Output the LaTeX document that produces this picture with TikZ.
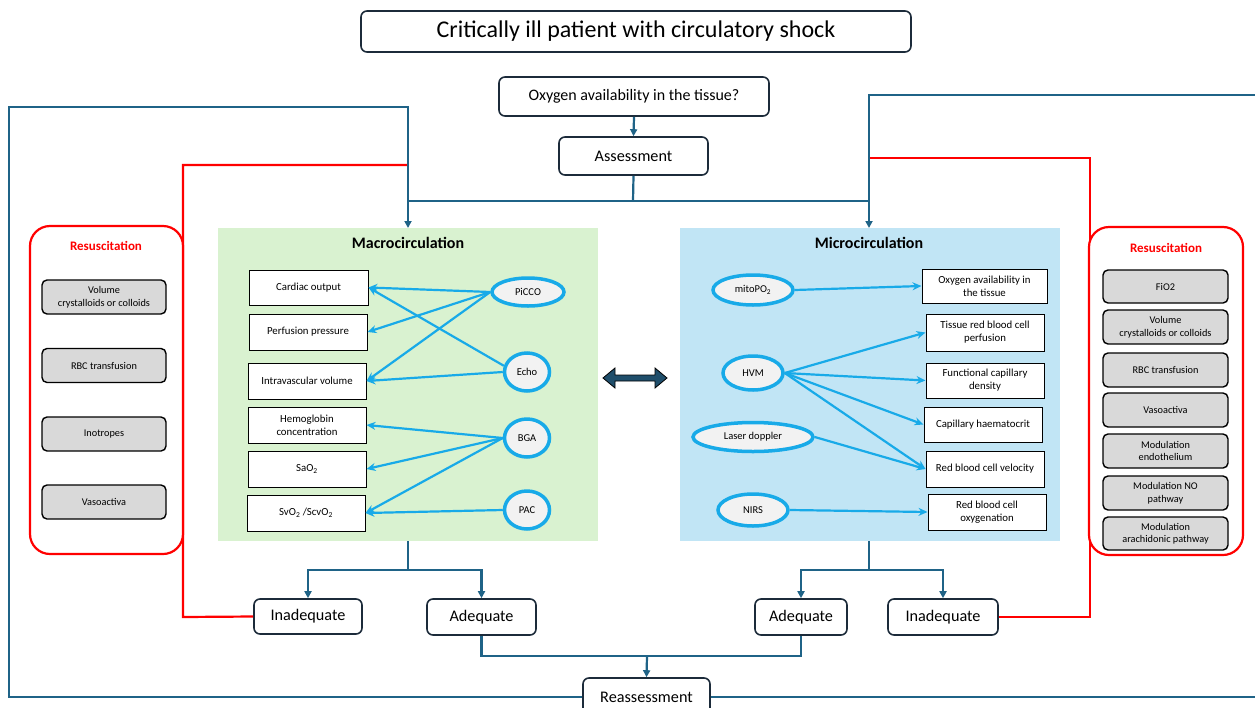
\documentclass[tikz,border=0pt]{standalone}
\usepackage{fontspec}
\setmainfont{Carlito}
\usetikzlibrary{arrows.meta,shapes.geometric}
\definecolor{conn}{HTML}{1F6387}
\definecolor{navy}{HTML}{1C2B3A}
\definecolor{lb}{HTML}{18AAE8}
\definecolor{ellfill}{HTML}{F2F2F2}
\definecolor{greenp}{HTML}{D9F2D0}
\definecolor{bluep}{HTML}{C1E5F5}
\definecolor{greybox}{HTML}{D9D9D9}
\definecolor{redc}{HTML}{FF0000}
\definecolor{darr}{HTML}{1F4E6B}
\begin{document}
\begin{tikzpicture}[x=1pt,y=-1pt,
 flowbox/.style={draw=navy, line width=1.6pt, rounded corners=6pt, fill=white, inner sep=0pt, align=center},
 bigf/.style={font=\fontsize{16.2}{19}\selectfont},
 mbox/.style={draw=black, line width=1pt, fill=white, inner sep=0pt, align=center, font=\fontsize{10.8}{13}\selectfont, minimum width=118pt, minimum height=36pt},
 gbox/.style={draw=black, line width=1.4pt, rounded corners=5pt, fill=greybox, inner sep=0pt, align=center, font=\fontsize{10.3}{12.5}\selectfont},
 ell/.style={ellipse, draw=lb, line width=3.5pt, fill=ellfill, inner sep=0pt, font=\fontsize{10.5}{12}\selectfont},
 resus/.style={draw=redc, line width=2.2pt, rounded corners=20pt, inner sep=0pt, fill=white},
 rtitle/.style={text=redc, font=\fontsize{13}{15}\selectfont\bfseries},
 ptitle/.style={font=\fontsize{16}{18}\selectfont\bfseries},
 panel/.style={draw=none, inner sep=0pt},
 cline/.style={draw=conn, line width=2.2pt},
 carrow/.style={cline, -{Triangle[length=7pt,width=7pt]}},
 rline/.style={draw=redc, line width=2.2pt},
 larrow/.style={draw=lb, line width=2.2pt, -{Stealth[length=9pt,width=8pt]}},
]
\useasboundingbox (0,0) rectangle (1255,707);
\clip (0,0) rectangle (1255,707);

% panels
\node[panel, fill=greenp, minimum width=380pt, minimum height=313pt] (macro) at (408,384.5) {};
\node[panel, fill=bluep, minimum width=380pt, minimum height=313pt] (micro) at (870,384.5) {};
\node[ptitle] (macrot) at (408,243) {Macrocirculation};
\node[ptitle] (microt) at (869,243) {Microcirculation};

% top boxes
\node[flowbox, minimum width=550pt, minimum height=41pt, font=\fontsize{24}{28}\selectfont] (title) at (636,31.5) {Critically ill patient with circulatory shock};
\node[flowbox, minimum width=270pt, minimum height=39pt, font=\fontsize{16}{19}\selectfont] (oxy) at (634,96.5) {Oxygen availability in the tissue?};
\node[flowbox, bigf, minimum width=149pt, minimum height=38pt] (assess) at (633.5,156) {Assessment};

% bottom boxes
\node[flowbox, bigf, minimum width=108pt, minimum height=35pt] (inadL) at (308,616.5) {Inadequate};
\node[flowbox, bigf, minimum width=109pt, minimum height=36pt] (adL) at (481.5,617) {Adequate};
\node[flowbox, bigf, minimum width=92pt, minimum height=36pt] (adR) at (801,617) {Adequate};
\node[flowbox, bigf, minimum width=110pt, minimum height=36pt] (inadR) at (943,617) {Inadequate};
\node[flowbox, bigf, minimum width=127pt, minimum height=38pt] (reass) at (646.5,697) {Reassessment};

% coordinates for connector corners
\coordinate (jA) at (633,201);
\coordinate (jL) at (408,201);
\coordinate (jR) at (869,201);
\coordinate (loopL1) at (9,697);
\coordinate (loopL2) at (9,107);
\coordinate (loopL3) at (408,107);
\coordinate (loopR1) at (1262,697);
\coordinate (loopR2) at (1262,95);
\coordinate (loopR3) at (869,95);
\coordinate (redL1) at (183,617);
\coordinate (redL2) at (183,165);
\coordinate (redL3) at (408,165);
\coordinate (redR1) at (1090,617);
\coordinate (redR2) at (1090,158);
\coordinate (redR3) at (869,158);
\coordinate (macroIn) at (408,228);
\coordinate (microIn) at (869,228);
\coordinate (macroOut) at (408,541);
\coordinate (microOut) at (869,541);
\coordinate (bL) at (408,570);
\coordinate (bR) at (869,570);
\coordinate (adJ) at (647,656);

% red feedback lines
\draw[rline] (inadL.west) -- (redL1) -- (redL2) -- (redL3);
\draw[rline] (inadR.east) -- (redR1) -- (redR2) -- (redR3);

% blue loops
\draw[carrow] (reass.west) -- (loopL1) -- (loopL2) -- (loopL3) -- (macroIn);
\draw[carrow] (reass.east) -- (loopR1) -- (loopR2) -- (loopR3) -- (microIn);
\draw[carrow] (oxy.south) -- (assess.north);
\draw[cline] (assess.south) -- (jA);
\draw[cline] (jL) -- (jR);

% bottom branches
\draw[cline] (macroOut) -- (bL);
\draw[carrow] (bL) -| (inadL.north);
\draw[carrow] (bL) -| (adL.north);
\draw[cline] (microOut) -- (bR);
\draw[carrow] (bR) -| (adR.north);
\draw[carrow] (bR) -| (inadR.north);
\draw[cline] (adL.south) |- (adJ) -| (adR.south);
\draw[carrow] (adJ) -- (reass.north);

% resuscitation panels
\node[resus, minimum width=153pt, minimum height=328pt] (resL) at (106.5,390) {};
\node[rtitle] (resLt) at (106,246) {Resuscitation};
\node[gbox, minimum width=124pt, minimum height=34pt] (l1) at (104,297) {Volume\\crystalloids or colloids};
\node[gbox, minimum width=124pt, minimum height=34pt] (l2) at (104,365.5) {RBC transfusion};
\node[gbox, minimum width=124pt, minimum height=34pt] (l3) at (104,434) {Inotropes};
\node[gbox, minimum width=124pt, minimum height=34pt] (l4) at (104,502) {Vasoactiva};

\node[resus, minimum width=154pt, minimum height=328pt] (resR) at (1166,391) {};
\node[rtitle] (resRt) at (1166,248) {Resuscitation};
\node[gbox, minimum width=125pt, minimum height=33pt] (r1) at (1165.5,286.5) {FiO2};
\node[gbox, minimum width=125pt, minimum height=34pt] (r2) at (1165.5,327) {Volume\\crystalloids or colloids};
\node[gbox, minimum width=125pt, minimum height=34pt] (r3) at (1165.5,370) {RBC transfusion};
\node[gbox, minimum width=125pt, minimum height=34pt] (r4) at (1165.5,410) {Vasoactiva};
\node[gbox, minimum width=125pt, minimum height=34pt] (r5) at (1165.5,451) {Modulation\\endothelium};
\node[gbox, minimum width=125pt, minimum height=34pt] (r6) at (1165.5,493) {Modulation NO\\pathway};
\node[gbox, minimum width=125pt, minimum height=33pt] (r7) at (1165.5,533.5) {Modulation\\arachidonic pathway};

% macro boxes
\node[mbox, minimum width=119pt, minimum height=35pt] (co) at (308.5,287.5) {Cardiac output};
\node[mbox] (pp) at (308,332) {Perfusion pressure};
\node[mbox] (iv) at (307,381) {Intravascular volume};
\node[mbox] (hb) at (307,425) {Hemoglobin\\concentration};
\node[mbox] (sao) at (307,469) {SaO\textsubscript{2}};
\node[mbox] (svo) at (306,513) {SvO\textsubscript{2} /ScvO\textsubscript{2}};

\node[ell, minimum width=72pt, minimum height=28pt] (picco) at (528,292) {PiCCO};
\node[ell, minimum width=45pt, minimum height=38pt] (echo) at (527,372) {Echo};
\node[ell, minimum width=45pt, minimum height=38pt] (bga) at (527,438) {BGA};
\node[ell, minimum width=45pt, minimum height=38pt] (pac) at (527,510) {PAC};

\draw[larrow] (picco.west) -- (co.east);
\draw[larrow] (picco.west) -- (pp.east);
\draw[larrow] (picco.west) -- (iv.east);
\draw[larrow] (echo.165) -- (co.east);
\draw[larrow] (echo.west) -- (iv.east);
\draw[larrow] (bga.west) -- (hb.east);
\draw[larrow] (bga.west) -- (sao.east);
\draw[larrow] (bga.west) -- (svo.east);
\draw[larrow] (pac.west) -- (svo.east);

% micro boxes
\node[mbox, minimum width=125pt, minimum height=34pt] (oa) at (984.5,286) {Oxygen availability in\\the tissue};
\node[mbox, minimum height=37pt] (trbc) at (985,332.5) {Tissue red blood cell\\perfusion};
\node[mbox, minimum height=35pt] (fcd) at (985,380.5) {Functional capillary\\density};
\node[mbox, minimum height=35pt] (ch) at (983,424.5) {Capillary haematocrit};
\node[mbox] (rbcv) at (985,469) {Red blood cell velocity};
\node[mbox] (rbco) at (987,512) {Red blood cell\\oxygenation};

\node[ell, minimum width=80pt, minimum height=30pt] (mito) at (753,290) {mitoPO\textsubscript{2}};
\node[ell, minimum width=60pt, minimum height=34pt] (hvm) at (753,373) {HVM};
\node[ell, minimum width=120pt, minimum height=29pt] (laser) at (753,437) {Laser doppler};
\node[ell, minimum width=70pt, minimum height=32pt] (nirs) at (753,510) {NIRS};

\draw[larrow] (mito.east) -- (oa.west);
\draw[larrow] (hvm.east) -- (trbc.west);
\draw[larrow] (hvm.east) -- (fcd.west);
\draw[larrow] (hvm.east) -- (ch.west);
\draw[larrow] (hvm.east) -- (rbcv.west);
\draw[larrow] (laser.east) -- (rbcv.west);
\draw[larrow] (nirs.east) -- (rbco.west);

% double arrow between panels
\draw[fill=darr, draw=black, line width=0.8pt, line join=miter]
  (603,378) -- (615,368) -- (615,375) -- (655,375) -- (655,368) -- (667,378)
  -- (655,388) -- (655,381) -- (615,381) -- (615,388) -- cycle;
\end{tikzpicture}
\end{document}
